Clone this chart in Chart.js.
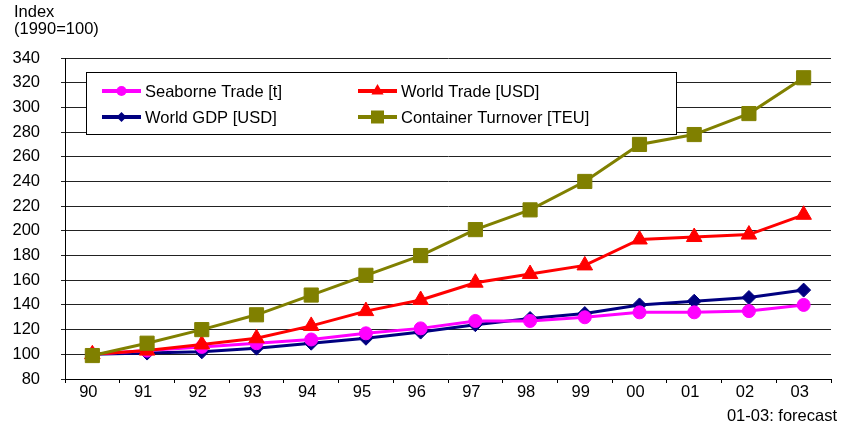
<!DOCTYPE html>
<html><head><meta charset="utf-8">
<script src="https://cdn.jsdelivr.net/npm/chart.js@4/dist/chart.umd.min.js"></script>
<style>html,body{margin:0;padding:0;background:#fff;}#wrap{position:relative;width:842px;height:432px;}</style>
</head><body><div id="wrap"><canvas id="c" width="842" height="432"></canvas></div>
<script>
const categories = ['90','91','92','93','94','95','96','97','98','99','00','01','02','03'];
const seaborneTrade = [100, 103, 106, 109, 112, 117, 121, 127, 127, 130, 134, 134, 135, 140];
const worldTrade = [100, 103, 108, 113, 123, 135, 144, 158, 165, 172, 193, 195, 197, 213];
const worldGDP = [100, 101, 102, 105, 109, 113, 118, 124, 129, 133, 140, 143, 146, 152];
const containerTurnover = [99, 109, 120, 132, 148, 164, 180, 201, 217, 240, 270, 278, 295, 324];
const yMin = 80, yMax = 340, yStep = 20;
const yTitleLines = ['Index', '(1990=100)'];
const footnote = '01-03: forecast';
const seriesNames = ['Seaborne Trade [t]', 'World Trade [USD]', 'World GDP [USD]', 'Container Turnover [TEU]'];

const FONT = '"Liberation Sans", Arial, sans-serif';
const SZ = 16.5;

function ds(label, data, color, style, r) {
  return { label, data, borderColor: color, backgroundColor: color, borderWidth: 3,
    pointStyle: style, pointRadius: r, pointHoverRadius: r, pointBorderWidth: 1,
    pointBackgroundColor: color, pointBorderColor: color, tension: 0, fill: false };
}
// index 0 is drawn on top
const datasets = [
  ds(seriesNames[3], containerTurnover, '#808000', 'rect', 10),
  ds(seriesNames[1], worldTrade, '#FF0000', 'triangle', 9),
  ds(seriesNames[0], seaborneTrade, '#FF00FF', 'circle', 6.5),
  ds(seriesNames[2], worldGDP, '#000080', 'rectRot', 7)
];
const legendOrder = [2, 1, 3, 0];

function marker(ctx, style, x, y, r, color) {
  ctx.fillStyle = color;
  ctx.beginPath();
  if (style === 'circle') { ctx.arc(x, y, r, 0, Math.PI * 2); }
  else if (style === 'rect') { ctx.rect(x - r, y - r, 2 * r, 2 * r); }
  else if (style === 'rectRot') { ctx.moveTo(x, y - r); ctx.lineTo(x + r, y); ctx.lineTo(x, y + r); ctx.lineTo(x - r, y); ctx.closePath(); }
  else if (style === 'triangle') { ctx.moveTo(x, y - r); ctx.lineTo(x + r * 0.87, y + r / 2); ctx.lineTo(x - r * 0.87, y + r / 2); ctx.closePath(); }
  ctx.fill();
}

const legendPlugin = {
  id: 'boxLegend',
  afterDatasetsDraw(chart) {
    const ctx = chart.ctx;
    ctx.save();
    const bx = 86, by = 72, bw = 590, bh = 62;
    ctx.fillStyle = '#fff'; ctx.fillRect(bx, by, bw, bh);
    ctx.strokeStyle = '#000'; ctx.lineWidth = 1; ctx.strokeRect(bx + 0.5, by + 0.5, bw, bh);
    const legR = { circle: 5, rect: 6.5, rectRot: 5, triangle: 7 };
    legendOrder.forEach((idx, i) => {
      const d = chart.data.datasets[idx];
      const col = i % 2, row = Math.floor(i / 2);
      const x0 = col ? 358 : 102;
      const y = row ? 117 : 91;
      ctx.strokeStyle = d.borderColor; ctx.lineWidth = 4;
      ctx.beginPath(); ctx.moveTo(x0, y); ctx.lineTo(x0 + 39, y); ctx.stroke();
      marker(ctx, d.pointStyle, x0 + 19.5, y, legR[d.pointStyle], d.borderColor);
      ctx.fillStyle = '#000'; ctx.font = SZ + 'px ' + FONT;
      ctx.textAlign = 'left'; ctx.textBaseline = 'middle';
      ctx.fillText(d.label, x0 + 43, y + 1);
    });
    ctx.restore();
  },
  afterDraw(chart) {
    const ctx = chart.ctx;
    ctx.save();
    ctx.fillStyle = '#000'; ctx.font = SZ + 'px ' + FONT;
    ctx.textAlign = 'left'; ctx.textBaseline = 'middle';
    ctx.fillText(yTitleLines[0], 14, 12);
    ctx.fillText(yTitleLines[1], 14, 29);
    ctx.textAlign = 'right';
    ctx.fillText(footnote, 837, 416);
    ctx.restore();
  }
};

new Chart(document.getElementById('c'), {
  type: 'line',
  data: { labels: categories, datasets },
  options: {
    responsive: false, animation: false, devicePixelRatio: 1,
    layout: { padding: { top: 58, right: 2, bottom: 0, left: 0 } },
    plugins: { legend: { display: false }, tooltip: { enabled: false }, title: { display: false } },
    scales: {
      x: {
        offset: true,
        grid: { display: true, drawOnChartArea: false, drawTicks: true, tickLength: 4, offset: true, color: '#000' },
        border: { display: true, color: '#000', width: 1 },
        ticks: { color: '#000', font: { family: FONT, size: SZ }, padding: 0, labelOffset: -4, maxRotation: 0, autoSkip: false },
        afterFit(s) { s.height = 53; }
      },
      y: {
        min: yMin, max: yMax,
        grid: { color: '#222', lineWidth: 1, drawTicks: true, tickLength: 4 },
        border: { display: true, color: '#000', width: 1 },
        ticks: { stepSize: yStep, color: '#000', font: { family: FONT, size: SZ }, padding: 21 },
        afterFit(s) { s.width = 65; }
      }
    }
  },
  plugins: [legendPlugin]
});
</script></body></html>
